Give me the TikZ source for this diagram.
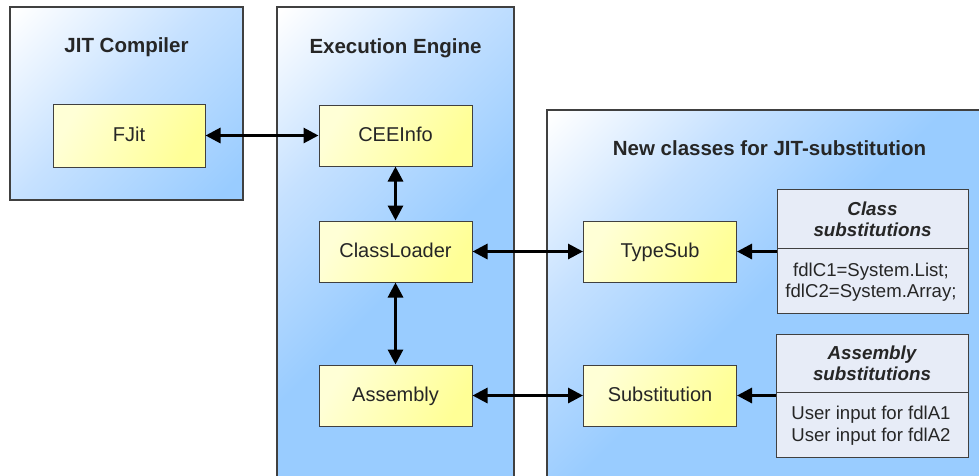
\documentclass[tikz,border=0pt]{standalone}
\usepackage{fontspec}
\setmainfont{Liberation Sans}
\usetikzlibrary{arrows.meta}

\definecolor{paneblue}{RGB}{153,204,255}
\definecolor{midblue}{RGB}{198,225,255}
\definecolor{ylight}{RGB}{255,255,214}
\definecolor{ydeep}{RGB}{255,255,150}
\definecolor{tabfill}{RGB}{231,236,247}
\definecolor{edge}{RGB}{64,64,64}

% diagonal white-to-blue wash used for the three panels
\pgfdeclarehorizontalshading{panelshade}{100bp}{color(0bp)=(white); color(15bp)=(white); color(29bp)=(midblue); color(44bp)=(paneblue); color(100bp)=(paneblue)}

\newcommand\drawpanel[2]{%
  \begin{scope}
    \clip #1 rectangle #2;
    \shade[shading=panelshade, shading angle=-45] #1 rectangle ++(480,480);
  \end{scope}
  \draw[edge, line width=1.2pt] #1 rectangle #2;}

\tikzset{
  paneltitle/.style={anchor=base, font=\bfseries\fontsize{20.5}{24}\selectfont, text=black!85},
  unit/.style={draw=edge, line width=1pt, left color=ylight, right color=ydeep, shading angle=60,
    minimum width=153pt, minimum height=61pt, inner sep=0pt,
    text height=14pt, text depth=3pt, font=\fontsize{20}{24}\selectfont, text=black!85},
  tabpart/.style={draw=edge, line width=1pt, fill=tabfill, minimum width=191pt, inner sep=0pt},
  tabhd/.style={anchor=base, font=\bfseries\itshape\fontsize{18.8}{22}\selectfont, text=black!85},
  tabln/.style={anchor=base, font=\fontsize{18.6}{22}\selectfont, text=black!85},
  link/.style={line width=3pt, black, {Triangle[length=15pt,width=15pt]}-{Triangle[length=15pt,width=15pt]}},
  feed/.style={line width=3pt, black, {Triangle[length=15pt,width=15pt]}-},
}

\begin{document}
\begin{tikzpicture}[x=1pt,y=-1pt]
\path[use as bounding box, clip] (0,0) rectangle (979,475);
\fill[white] (0,0) rectangle (979,475);

% panels
\drawpanel{(10,7)}{(243,200)}
\drawpanel{(277,7)}{(514,490)}
\drawpanel{(547,110)}{(995,490)}

\node[paneltitle] (tjit) at (126.5,52.5) {JIT Compiler};
\node[paneltitle] (tee) at (395.5,53) {Execution Engine};
\node[paneltitle] (tnew) at (769.5,155) {New classes for JIT-substitution};

% components
\node[unit, minimum width=152pt, minimum height=63pt] (fjit) at (129,135.5) {FJit};
\node[unit] (cee) at (395.5,135.5) {CEEInfo};
\node[unit] (cl) at (395.5,251.5) {ClassLoader};
\node[unit] (asm) at (395.5,395.5) {Assembly};
\node[unit] (ts) at (660,251.5) {TypeSub};
\node[unit] (sub) at (660,395.5) {Substitution};

% class substitution table
\node[tabpart, minimum height=59pt] (chead) at (872.5,218.5) {};
\node[tabpart, minimum height=65pt] (cbody) at (872.5,280.5) {};
\node[tabhd] (ch1) at (872.5,215) {Class};
\node[tabhd] (ch2) at (872.5,236) {substitutions};
\node[tabln] (cb1) at (871,276.5) {fdlC1=System.List;};
\node[tabln] (cb2) at (871,297) {fdlC2=System.Array;};

% assembly substitution table
\node[tabpart, minimum width=192pt, minimum height=58pt] (ahead) at (872,363) {};
\node[tabpart, minimum width=192pt, minimum height=65pt] (abody) at (872,424.5) {};
\node[tabhd] (ah1) at (872,359.5) {Assembly};
\node[tabhd] (ah2) at (872,380.5) {substitutions};
\node[tabln] (ab1) at (871,419.5) {User input for fdlA1};
\node[tabln] (ab2) at (871,441) {User input for fdlA2};

% connectors
\draw[link] (fjit) -- (cee);
\draw[link] (cee) -- (cl);
\draw[link] (cl) -- (asm);
\draw[link] (cl) -- (ts);
\draw[link] (asm) -- (sub);
\draw[feed] (ts.east) -- (ts.east -| cbody.west);
\draw[feed] (sub.east) -- (sub.east -| abody.west);
\end{tikzpicture}
\end{document}
